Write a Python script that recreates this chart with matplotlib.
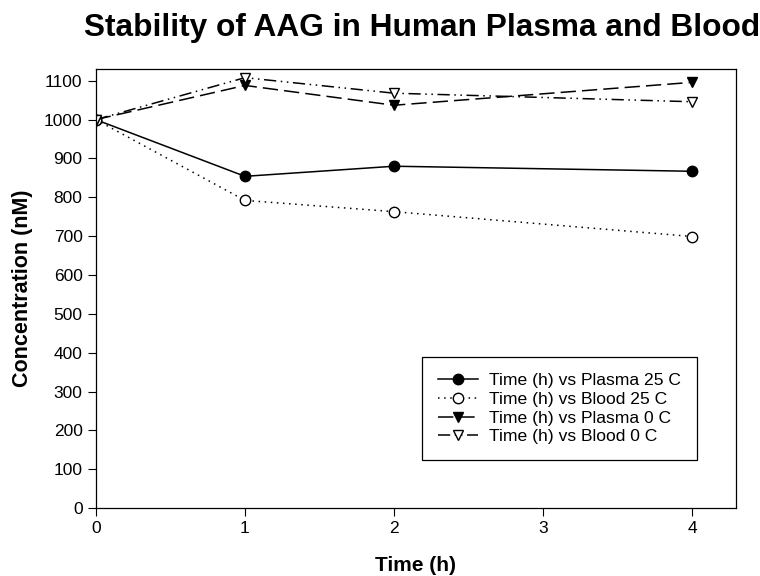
import numpy as np
import matplotlib.pyplot as plt

plt.rcParams['font.family'] = ['Liberation Sans', 'DejaVu Sans']

time_h = [0, 1, 2, 4]
plasma_25 = [1000, 854, 880, 867]
blood_25 = [1000, 792, 763, 699]
plasma_0 = [1000, 1088, 1037, 1096]
blood_0 = [1000, 1108, 1068, 1046]

labels = ["Time (h) vs Plasma 25 C", "Time (h) vs Blood 25 C",
          "Time (h) vs Plasma 0 C", "Time (h) vs Blood 0 C"]

fig = plt.figure(figsize=(7.6, 5.76), dpi=100)
ax = fig.add_axes([0.126, 0.118, 0.842, 0.762])

ax.plot(time_h, plasma_25, color='black', lw=1.1, marker='o', ms=7.5,
        mfc='black', label=labels[0])
ax.plot(time_h, blood_25, color='black', lw=1.1, ls=(0, (1, 3)), marker='o',
        ms=7.5, mfc='white', label=labels[1])
ax.plot(time_h, plasma_0, color='black', lw=1.1, ls=(0, (10, 4)), marker='v',
        ms=7.5, mfc='black', label=labels[2])
ax.plot(time_h, blood_0, color='black', lw=1.1, ls=(0, (8, 3, 1, 3, 1, 3)),
        marker='v', ms=7.5, mfc='white', label=labels[3])

ax.set_xlim(0, 4.29)
ax.set_ylim(0, 1130)
ax.set_xticks([0, 1, 2, 3, 4])
ax.set_yticks(np.arange(0, 1101, 100))
ax.tick_params(direction='out', length=6, labelsize=12.5)
for s in ax.spines.values():
    s.set_linewidth(0.9)

ax.set_xlabel("Time (h)", fontsize=15, fontweight='bold', labelpad=14)
ax.set_ylabel("Concentration (nM)", fontsize=15.5, fontweight='bold', labelpad=8)
fig.text(0.556, 0.952, "Stability of AAG in Human Plasma and Blood",
         ha='center', va='center', fontsize=22.8, fontweight='bold')

leg = ax.legend(loc='lower right', bbox_to_anchor=(0.939, 0.109),
                borderaxespad=0, fontsize=12.6, fancybox=False,
                edgecolor='black', framealpha=1, handlelength=2.3,
                handletextpad=0.6, labelspacing=0.2, borderpad=0.9)
leg.get_frame().set_linewidth(0.9)

fig.savefig('out.png', dpi=100)
